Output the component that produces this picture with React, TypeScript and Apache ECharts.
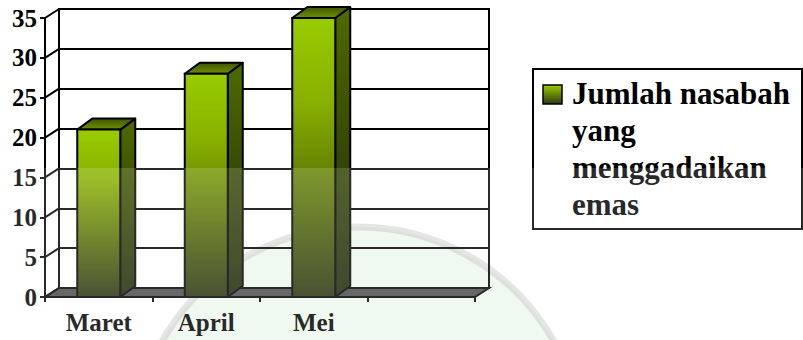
import React, { useEffect, useRef } from 'react';
import * as echarts from 'echarts';

const categories = ['Maret', 'April', 'Mei', ''];
const values = [21, 28, 35];
const yTicks = [0, 5, 10, 15, 20, 25, 30, 35];
const seriesName = 'Jumlah nasabah yang menggadaikan emas';
const legendLines = ['Jumlah nasabah', 'yang', 'menggadaikan', 'emas'];

const FONT = "'Liberation Serif', 'Times New Roman', serif";
const DX = 14;
const DY = 9;
const BDX = 15;
const BDY = 11;

export default function App() {
  const ref = useRef<HTMLDivElement>(null);
  useEffect(() => {
    document.body.style.margin = '0';
    const chart = echarts.init(ref.current!, null, { renderer: 'svg' });
    const frontGrad = () =>
      new echarts.graphic.LinearGradient(0, 0, 0, 1, [
        { offset: 0, color: '#99cc00' },
        { offset: 0.3, color: '#88b000' },
        { offset: 1, color: '#27310c' },
      ]);
    const sideGrad = () =>
      new echarts.graphic.LinearGradient(0, 0, 0, 1, [
        { offset: 0, color: '#4f6a00' },
        { offset: 1, color: '#1c2606' },
      ]);
    const topGrad = () =>
      new echarts.graphic.LinearGradient(0, 0, 0, 1, [
        { offset: 0, color: '#3f5500' },
        { offset: 1, color: '#6e9200' },
      ]);

    const option: any = {
      animation: false,
      backgroundColor: '#fff',
      grid: [
        { left: 45, top: 18, width: 430, height: 279, show: false },
        {
          left: 45 + DX,
          top: 18 - DY,
          width: 430,
          height: 279,
          show: true,
          borderColor: '#000',
          borderWidth: 2,
          backgroundColor: 'transparent',
        },
      ],
      xAxis: [
        {
          type: 'category',
          gridIndex: 0,
          data: categories,
          boundaryGap: true,
          axisLine: { show: true, lineStyle: { color: '#000', width: 2 } },
          axisTick: { show: true, length: 5, interval: 0, lineStyle: { color: '#000', width: 2 } },
          axisLabel: {
            interval: 0,
            margin: 13,
            color: '#000',
            fontFamily: FONT,
            fontWeight: 'bold',
            fontSize: 25,
          },
          splitLine: { show: false },
        },
        { type: 'value', gridIndex: 1, min: 0, max: 1, show: false },
      ],
      yAxis: [
        {
          type: 'value',
          gridIndex: 0,
          min: 0,
          max: 35,
          interval: 5,
          axisLine: { show: true, lineStyle: { color: '#000', width: 2 } },
          axisTick: { show: true, length: 5, lineStyle: { color: '#000', width: 2 } },
          axisLabel: {
            margin: 8,
            color: '#000',
            fontFamily: FONT,
            fontWeight: 'bold',
            fontSize: 25,
          },
          splitLine: { show: false },
        },
        {
          type: 'value',
          gridIndex: 1,
          min: 0,
          max: 35,
          interval: 5,
          axisLine: { show: false },
          axisTick: { show: false },
          axisLabel: { show: false },
          splitLine: { show: true, lineStyle: { color: '#000', width: 2 } },
        },
      ],
      series: [
        {
          type: 'custom',
          name: 'frame',
          xAxisIndex: 0,
          yAxisIndex: 0,
          z: 1,
          silent: true,
          clip: false,
          data: [[0, 0]],
          renderItem: (params: any, api: any) => {
            const cs = params.coordSys;
            const x = cs.x;
            const yb = cs.y + cs.height;
            const w = cs.width;
            const children: any[] = [
              {
                type: 'polygon',
                shape: {
                  points: [
                    [x, yb],
                    [x + w, yb],
                    [x + w + DX, yb - DY],
                    [x + DX, yb - DY],
                  ],
                },
                style: { fill: '#4a4a4a', stroke: '#000', lineWidth: 2 },
              },
            ];
            yTicks.forEach((t) => {
              const p = api.coord([0, t]);
              children.push({
                type: 'line',
                shape: { x1: x, y1: p[1], x2: x + DX, y2: p[1] - DY },
                style: { stroke: '#000', lineWidth: 2 },
              });
            });
            children.push({
              type: 'line',
              shape: { x1: x + DX, y1: cs.y - DY, x2: x + DX, y2: yb - DY },
              style: { stroke: '#000', lineWidth: 2 },
            });
            return { type: 'group', children };
          },
        },
        {
          type: 'custom',
          name: seriesName,
          xAxisIndex: 0,
          yAxisIndex: 0,
          z: 3,
          clip: false,
          encode: { x: 0, y: 1 },
          data: values.map((v, i) => [i, v]),
          renderItem: (params: any, api: any) => {
            const cat = api.value(0);
            const v = api.value(1);
            const top = api.coord([cat, v]);
            const base = api.coord([cat, 0]);
            const band = api.size([1, 0])[0];
            const bw = band * 0.4;
            const x0 = top[0] - bw / 2;
            const x1 = top[0] + bw / 2;
            const yt = top[1];
            const yb = base[1];
            return {
              type: 'group',
              children: [
                {
                  type: 'polygon',
                  shape: {
                    points: [
                      [x1, yt],
                      [x1 + BDX, yt - BDY],
                      [x1 + BDX, yb - BDY],
                      [x1, yb],
                    ],
                  },
                  style: { fill: sideGrad(), stroke: '#000', lineWidth: 2, lineJoin: 'round' },
                },
                {
                  type: 'polygon',
                  shape: {
                    points: [
                      [x0, yt],
                      [x1, yt],
                      [x1 + BDX, yt - BDY],
                      [x0 + BDX, yt - BDY],
                    ],
                  },
                  style: { fill: topGrad(), stroke: '#000', lineWidth: 2, lineJoin: 'round' },
                },
                {
                  type: 'rect',
                  shape: { x: x0, y: yt, width: bw, height: yb - yt },
                  style: { fill: frontGrad(), stroke: '#000', lineWidth: 2 },
                },
              ],
            };
          },
        },
      ],
      graphic: [
        {
          type: 'circle',
          z: -1,
          silent: true,
          shape: { cx: 358, cy: 452, r: 225 },
          style: { fill: 'rgba(200,232,200,0.3)', stroke: 'rgba(170,170,170,0.35)', lineWidth: 7 },
        },
        {
          type: 'group',
          left: 532,
          top: 68,
          z: 5,
          children: [
            {
              type: 'rect',
              shape: { x: 0, y: 0, width: 269, height: 160 },
              style: { fill: '#fff', stroke: '#000', lineWidth: 2 },
            },
            {
              type: 'rect',
              shape: { x: 10, y: 16, width: 19, height: 19 },
              style: {
                fill: new echarts.graphic.LinearGradient(0, 0, 0, 1, [
                  { offset: 0, color: '#99cc00' },
                  { offset: 1, color: '#2e3a10' },
                ]),
                stroke: '#000',
                lineWidth: 1.5,
              },
            },
            {
              type: 'text',
              x: 39,
              y: 6,
              style: {
                text: legendLines.join('\n'),
                fontFamily: FONT,
                fontWeight: 'bold',
                fontSize: 31,
                lineHeight: 37,
                fill: '#000',
                verticalAlign: 'top',
                align: 'left',
              },
            },
          ],
        },
        {
          type: 'rect',
          z: 100,
          silent: true,
          shape: { x: 0, y: 168, width: 803, height: 172 },
          style: { fill: 'rgba(255,255,255,0.16)' },
        },
      ],
    };
    chart.setOption(option);
    return () => chart.dispose();
  }, []);
  return (
    <div
      ref={ref}
      style={{ position: 'fixed', left: 0, top: 0, width: 803, height: 340 }}
    />
  );
}
